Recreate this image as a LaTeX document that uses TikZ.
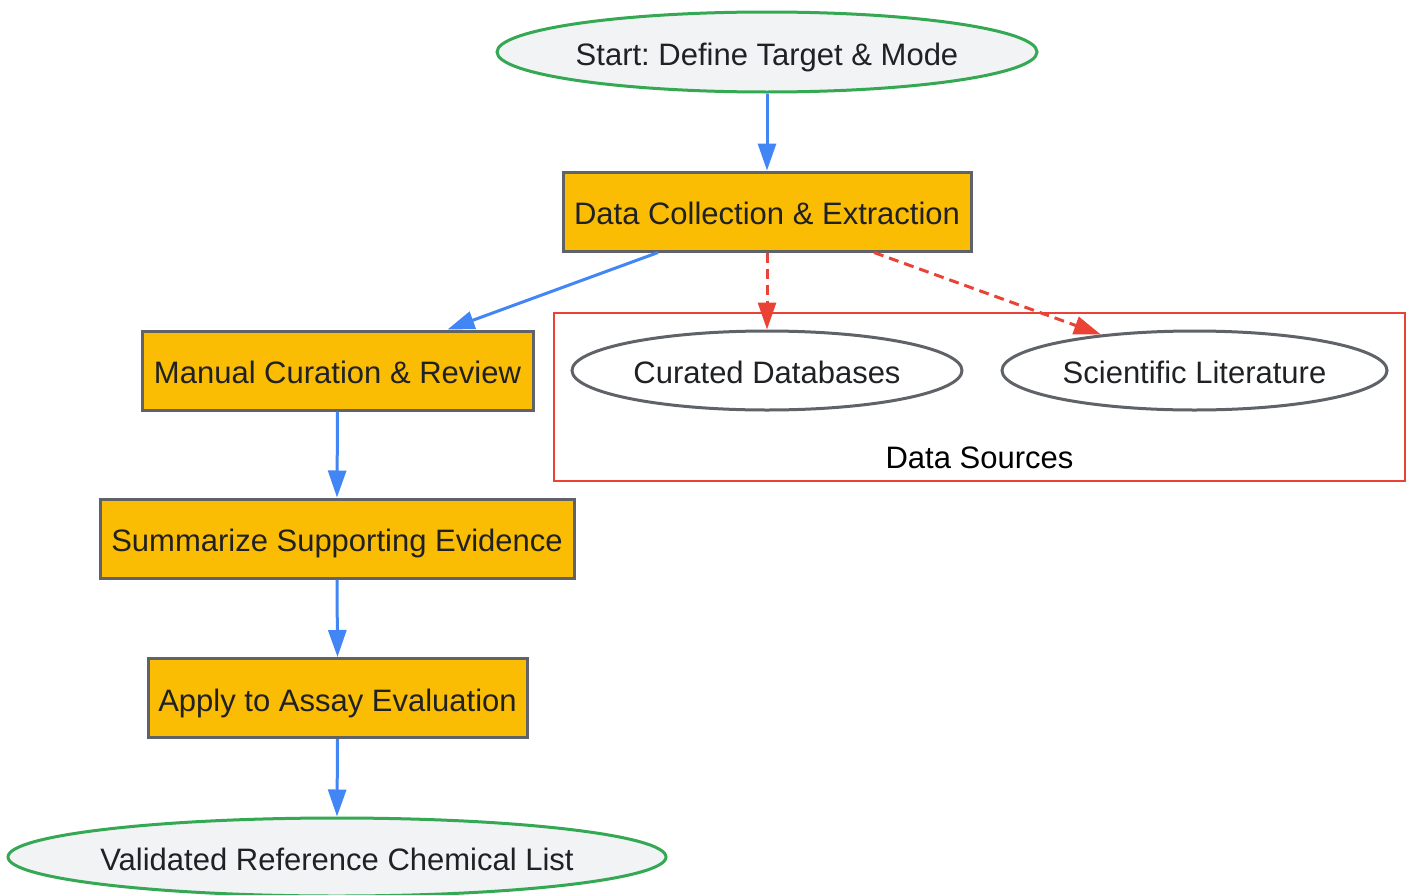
\documentclass[tikz,border=0pt]{standalone}
\usepackage{fontspec}
\setmainfont{Liberation Sans}
\usetikzlibrary{shapes.geometric,arrows.meta}
\definecolor{gfill}{HTML}{F1F3F4}
\definecolor{ggreen}{HTML}{34A853}
\definecolor{gyellow}{HTML}{FBBC04}
\definecolor{ggray}{HTML}{5F6368}
\definecolor{gblue}{HTML}{4285F4}
\definecolor{gred}{HTML}{EA4335}
\definecolor{gtext}{HTML}{202124}
\frenchspacing
\begin{document}
\begin{tikzpicture}[x=1pt,y=-1pt,
  every node/.style={font=\fontsize{31}{36}\selectfont, text=gtext, inner sep=0pt, text height=31pt, text depth=5pt},
  term/.style={ellipse, draw=ggreen, fill=gfill, line width=3pt, inner xsep=-60pt},
  procbox/.style={rectangle, draw=ggray, fill=gyellow, line width=3pt},
  src/.style={ellipse, draw=ggray, fill=white, line width=3pt, inner xsep=-40pt},
  flow/.style={draw=gblue, line width=3pt, -{Triangle[length=27pt,width=18pt]}},
  dflow/.style={draw=gred, line width=3pt, dash pattern=on 10pt off 6pt, -{Triangle[length=27pt,width=18pt]}}
]
\useasboundingbox (0,0) rectangle (1410,894);
\fill[white] (0,0) rectangle (1410,894);

% cluster
\node[draw=gred, line width=2pt, minimum width=851pt, minimum height=168pt, rectangle, text height=0pt, text depth=0pt] (cluster) at (979.5,397) {};
\node[text=black] (clabel) at (979.5,455) {Data Sources};

\node[term, minimum width=540pt, minimum height=80pt] (start) at (767,52) {Start: Define Target \& Mode};
\node[procbox, minimum width=408pt, minimum height=79pt] (dc) at (767,211.5) {Data Collection \& Extraction};
\node[procbox, minimum width=391pt, minimum height=79pt] (man) at (337.5,370.5) {Manual Curation \& Review};
\node[procbox, minimum width=474pt, minimum height=79pt] (sum) at (337,538.5) {Summarize Supporting Evidence};
\node[procbox, minimum width=379pt, minimum height=79pt] (app) at (337.5,698) {Apply to Assay Evaluation};
\node[term, minimum width=658pt, minimum height=78pt] (val) at (337,857) {Validated Reference Chemical List};
\node[src, minimum width=390pt, minimum height=79pt] (cdb) at (767,370.5) {Curated Databases};
\node[src, minimum width=385pt, minimum height=79pt] (sl) at (1194.5,370.5) {Scientific Literature};

\draw[flow] (start.south) -- (dc.north);
\draw[flow] ([xshift=-109pt]dc.south) -- ([xshift=110pt]man.north);
\draw[flow] (man.south) -- (sum.north);
\draw[flow] (sum.south) -- (app.north);
\draw[flow] (app.south) -- (val.north);
\draw[dflow] (dc.south) -- (cdb.north);
\draw[dflow] ([xshift=107pt]dc.south) -- (sl.159);
\end{tikzpicture}
\end{document}
